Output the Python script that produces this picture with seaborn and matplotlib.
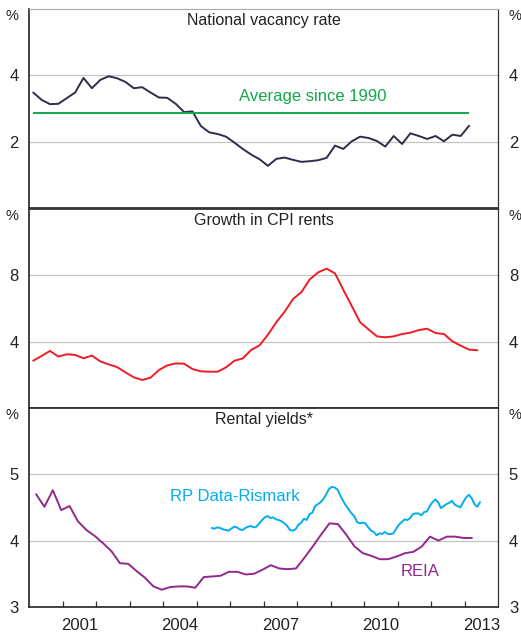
import numpy as np
import pandas as pd
import matplotlib.pyplot as plt
import seaborn as sns

sns.set_style("white")
plt.rcParams["font.family"] = ["Liberation Sans", "DejaVu Sans"]

# National vacancy rate, quarterly from early 2000
vacancy = [3.48, 3.26, 3.13, 3.14, 3.31, 3.48, 3.92, 3.61, 3.86, 3.97,
           3.91, 3.80, 3.61, 3.64, 3.48, 3.33, 3.32, 3.14, 2.89, 2.91,
           2.47, 2.28, 2.23, 2.15, 1.97, 1.78, 1.61, 1.47, 1.27, 1.48,
           1.52, 1.45, 1.39, 1.41, 1.44, 1.51, 1.88, 1.78, 2.01, 2.15,
           2.11, 2.02, 1.85, 2.17, 1.93, 2.25, 2.17, 2.08, 2.17, 2.01,
           2.21, 2.17, 2.48]
vacancy_avg = 2.85

# Growth in CPI rents, quarterly
cpi_rents = [2.85, 3.14, 3.44, 3.10, 3.24, 3.20, 3.00, 3.16, 2.81, 2.63,
             2.47, 2.15, 1.85, 1.69, 1.83, 2.29, 2.57, 2.69, 2.67, 2.35,
             2.21, 2.19, 2.19, 2.45, 2.85, 2.99, 3.50, 3.78, 4.42, 5.17,
             5.81, 6.57, 6.99, 7.76, 8.18, 8.40, 8.12, 7.12, 6.15, 5.17,
             4.74, 4.32, 4.26, 4.32, 4.46, 4.54, 4.70, 4.78, 4.52, 4.46,
             4.02, 3.76, 3.52, 3.48]

# Rental yields: REIA quarterly
reia = [4.70, 4.51, 4.76, 4.46, 4.52, 4.29, 4.16, 4.07, 3.96, 3.84,
        3.66, 3.65, 3.54, 3.44, 3.31, 3.26, 3.30, 3.31, 3.31, 3.29,
        3.45, 3.46, 3.47, 3.53, 3.53, 3.49, 3.50, 3.56, 3.63, 3.58,
        3.57, 3.58, 3.74, 3.91, 4.09, 4.26, 4.25, 4.09, 3.91, 3.81,
        3.77, 3.72, 3.72, 3.76, 3.81, 3.83, 3.91, 4.06, 4.00, 4.06,
        4.06, 4.04, 4.04]

# Rental yields: RP Data-Rismark monthly from mid 2005
rp_data = [4.19, 4.18, 4.20, 4.19, 4.17, 4.16, 4.15,
           4.18, 4.21, 4.20, 4.17, 4.16, 4.19, 4.21, 4.22, 4.20, 4.21, 4.26, 4.31,
           4.35, 4.37, 4.34, 4.35, 4.32, 4.31, 4.29, 4.26, 4.22, 4.16, 4.15, 4.17,
           4.24, 4.27, 4.33, 4.31, 4.40, 4.42, 4.52, 4.55, 4.58, 4.63, 4.70, 4.78,
           4.81, 4.80, 4.77, 4.68, 4.60, 4.53, 4.47, 4.41, 4.37, 4.28, 4.26, 4.27,
           4.26, 4.20, 4.15, 4.13, 4.08, 4.11, 4.10, 4.13, 4.10, 4.10, 4.11, 4.18,
           4.24, 4.28, 4.32, 4.31, 4.34, 4.40, 4.41, 4.41, 4.38, 4.43, 4.44, 4.52,
           4.58, 4.62, 4.58, 4.49, 4.52, 4.55, 4.57, 4.60, 4.54, 4.52, 4.50, 4.58,
           4.65, 4.69, 4.64, 4.55, 4.51, 4.58]

year_labels = ["2001", "2004", "2007", "2010", "2013"]

vac_df = pd.DataFrame({"year": 2000.125 + 0.25 * np.arange(len(vacancy)), "value": vacancy})
cpi_df = pd.DataFrame({"year": 2000.125 + 0.25 * np.arange(len(cpi_rents)), "value": cpi_rents})
reia_df = pd.DataFrame({"year": 2000.21 + 0.25 * np.arange(len(reia)), "value": reia})
rp_df = pd.DataFrame({"year": 2005.45 + np.arange(len(rp_data)) / 12, "value": rp_data})

dark = "#333333"
grid_c = "#c4c4c4"

fig = plt.figure(figsize=(5.21, 6.32), dpi=100)
left, width = 0.0557, 0.901
bottoms = [0.6709, 0.3544, 0.0396]
height = 0.315
axes = [fig.add_axes([left, b, width, height]) for b in bottoms]

panels = [
    ("National vacancy rate", (0, 6), [2, 4], ["", "2", "4", "%"], [0, 2, 4, 6]),
    ("Growth in CPI rents", (0, 12), [4, 8], ["", "4", "8", "%"], [0, 4, 8, 12]),
    ("Rental yields*", (3, 6), [4, 5], ["3", "4", "5", "%"], [3, 4, 5, 6]),
]

for i, (ax, (title, ylim, grids, labels, ticks)) in enumerate(zip(axes, panels)):
    for g in grids:
        ax.axhline(g, color=grid_c, lw=0.9, zorder=0)
    ax.set_xlim(2000, 2014)
    ax.set_ylim(*ylim)
    ax.text(0.5, 0.94, title, transform=ax.transAxes, ha="center", va="center",
            fontsize=11.5, color="#222222")
    for s in ["left", "bottom", "top"]:
        ax.spines[s].set_color(dark)
        ax.spines[s].set_linewidth(1.3)
    ax.spines["right"].set_color(dark)
    ax.spines["right"].set_linewidth(0.9)
    if i == 0:
        ax.spines["top"].set_color("#aaaaaa")
        ax.spines["top"].set_linewidth(0.8)

# Panel 1
ax = axes[0]
sns.lineplot(data=vac_df, x="year", y="value", color="#2e2d4a", lw=1.4, ax=ax)
ax.hlines(vacancy_avg, vac_df["year"].iloc[0], vac_df["year"].iloc[-1],
          color="#12a84b", lw=1.4)
ax.text(2008.45, 3.36, "Average since 1990", color="#12a84b", fontsize=12,
        ha="center", va="center")

# Panel 2
ax = axes[1]
sns.lineplot(data=cpi_df, x="year", y="value", color="#ee1c25", lw=1.4, ax=ax)

# Panel 3
ax = axes[2]
sns.lineplot(data=reia_df, x="year", y="value", color="#93278f", lw=1.4, ax=ax)
sns.lineplot(data=rp_df, x="year", y="value", color="#00aeef", lw=1.4, ax=ax)
ax.text(2006.14, 4.66, "RP Data-Rismark", color="#00aeef", fontsize=12,
        ha="center", va="center")
ax.text(2011.67, 3.535, "REIA", color="#93278f", fontsize=12,
        ha="center", va="center")

for ax, (title, ylim, grids, labels, ticks) in zip(axes, panels):
    ax.set_xlabel("")
    ax.set_ylabel("")
    ax.set_ylim(*ylim)
    ax.set_yticks(ticks)
    ax.set_yticklabels(labels)
    ax.tick_params(axis="y", left=False, right=False, labelleft=True,
                   labelright=True, labelsize=12, pad=4, colors="#222222")
    # the "%" unit label sits just under the top edge
    top = ax.yaxis.get_major_ticks()[-1]
    for lab in (top.label1, top.label2):
        lab.set_verticalalignment("top")
        lab.set_fontsize(10.5)

for ax in axes[:2]:
    ax.set_xticks([])
    ax.tick_params(axis="x", bottom=False, labelbottom=False)

ax = axes[2]
ax.set_xticks([int(y) + 0.5 for y in year_labels])
ax.set_xticklabels(year_labels)
ax.set_xticks(np.arange(2001, 2014), minor=True)
ax.tick_params(axis="x", which="major", length=0, labelsize=12, pad=8, colors="#222222")
ax.tick_params(axis="x", which="minor", bottom=True, direction="in", length=4,
               width=0.9, color=dark)

fig.savefig("out.png", dpi=100)
